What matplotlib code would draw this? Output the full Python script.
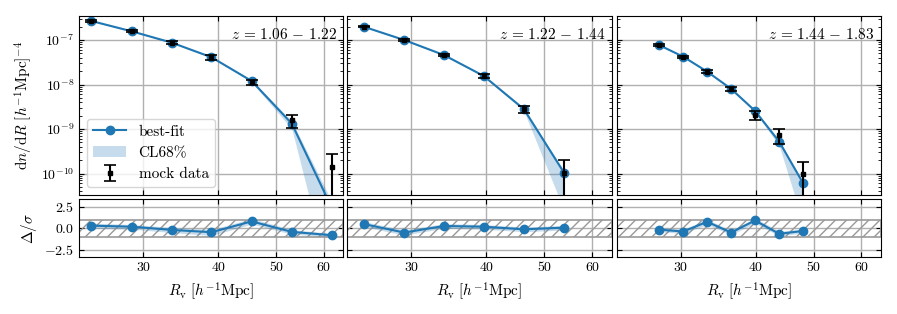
import numpy as np
import matplotlib
matplotlib.use("Agg")
import matplotlib.pyplot as plt
from matplotlib.ticker import FixedLocator, NullLocator, FixedFormatter, LogLocator

plt.rcParams['font.family'] = 'serif'
plt.rcParams['font.serif'] = ['cmr10', 'DejaVu Serif']
plt.rcParams['mathtext.fontset'] = 'cm'
plt.rcParams['axes.formatter.use_mathtext'] = True
plt.rcParams['axes.unicode_minus'] = True
plt.rcParams['font.size'] = 10

# ---------------- data ----------------
z_labels = [r"$z\,=\,1.06\,-\,1.22$", r"$z\,=\,1.22\,-\,1.44$", r"$z\,=\,1.44\,-\,1.83$"]

R1 = [24.6, 28.7, 33.5, 39.0, 45.5, 53.1, 61.9]
fit1 = [2.67e-7, 1.57e-7, 8.7e-8, 4.1e-8, 1.2e-8, 1.32e-9, 1.7e-11]
band_lo1 = [2.60e-7, 1.53e-7, 8.45e-8, 3.95e-8, 1.13e-8, 1.0e-9, 3e-13]
band_hi1 = [2.74e-7, 1.61e-7, 8.95e-8, 4.25e-8, 1.27e-8, 1.5e-9, 2.4e-11]
data1 = [2.67e-7, 1.57e-7, 8.7e-8, 4.1e-8, 1.12e-8, 1.56e-9, 1.38e-10]
err1 = [1.0e-8, 0.8e-8, 0.6e-8, 0.5e-8, 0.16e-8, 0.48e-9, 1.32e-10]
res1 = [0.31, 0.19, -0.19, -0.46, 0.81, -0.42, -0.81]
res_lo1 = [0.0, -0.1, -0.5, -0.85, 0.5, -0.7, -1.0]
res_hi1 = [0.6, 0.45, 0.1, -0.15, 1.15, -0.15, -0.6]

R2 = [25.0, 29.2, 34.0, 39.6, 46.2, 53.9]
fit2 = [1.99e-7, 1.0e-7, 4.6e-8, 1.56e-8, 2.8e-9, 1.04e-10]
band_lo2 = [1.94e-7, 0.97e-7, 4.45e-8, 1.5e-8, 2.55e-9, 1.5e-11]
band_hi2 = [2.04e-7, 1.03e-7, 4.75e-8, 1.62e-8, 3.0e-9, 1.15e-10]
data2 = [1.99e-7, 1.0e-7, 4.6e-8, 1.56e-8, 2.8e-9, 1.04e-10]
err2 = [0.8e-8, 0.5e-8, 0.3e-8, 0.15e-8, 0.5e-9, 0.93e-10]
res2 = [0.5, -0.5, 0.27, 0.19, -0.12, 0.08]
res_lo2 = [0.2, -0.8, 0.0, -0.1, -0.4, -0.2]
res_hi2 = [0.8, -0.2, 0.55, 0.45, 0.15, 0.35]

R3 = [27.6, 30.3, 33.2, 36.4, 39.9, 43.8, 48.0]
fit3 = [7.7e-8, 4.2e-8, 1.95e-8, 8.0e-9, 2.57e-9, 5.2e-10, 6.1e-11]
band_lo3 = [7.5e-8, 4.1e-8, 1.89e-8, 7.7e-9, 2.4e-9, 4.2e-10, 8e-12]
band_hi3 = [7.9e-8, 4.3e-8, 2.01e-8, 8.3e-9, 2.72e-9, 5.6e-10, 6.5e-11]
data3 = [7.7e-8, 4.2e-8, 1.95e-8, 8.0e-9, 2.06e-9, 7.3e-10, 9.7e-11]
err3 = [0.4e-8, 0.25e-8, 0.15e-8, 0.8e-9, 0.5e-9, 2.6e-10, 0.83e-10]
res3 = [-0.15, -0.38, 0.77, -0.5, 0.92, -0.65, -0.31]
res_lo3 = [-0.4, -0.6, 0.45, -0.75, 0.6, -0.9, -0.55]
res_hi3 = [0.1, -0.1, 1.05, -0.25, 1.2, -0.35, -0.05]

panels = [
    (R1, fit1, band_lo1, band_hi1, data1, err1, res1, res_lo1, res_hi1),
    (R2, fit2, band_lo2, band_hi2, data2, err2, res2, res_lo2, res_hi2),
    (R3, fit3, band_lo3, band_hi3, data3, err3, res3, res_lo3, res_hi3),
]

xticks = [30, 40, 50, 60]
res_ticks = [-2.5, 0.0, 2.5]
res_ticklabels = [r"$-2.5$", r"$0.0$", r"$2.5$"]

# ---------------- figure ----------------
W, H = 897, 314
fig = plt.figure(figsize=(W / 100, H / 100), dpi=100)

lefts = [79, 347, 616.7]
rights = [343.3, 611.7, 880.7]
top_t, top_b = 16, 195
bot_t, bot_b = 199.3, 257.3

blue = '#1f77b4'
gridc = '#b0b0b0'

for i, (R, fit, blo, bhi, dat, err, res, rlo, rhi) in enumerate(panels):
    l = lefts[i] / W
    w = (rights[i] - lefts[i]) / W
    ax = fig.add_axes([l, 1 - top_b / H, w, (top_b - top_t) / H])
    axr = fig.add_axes([l, 1 - bot_b / H, w, (bot_b - bot_t) / H])

    # top panel
    ax.set_xscale('log')
    ax.set_yscale('log')
    ax.fill_between(R, blo, bhi, color=blue, alpha=0.25, lw=0, label='CL68%')
    ax.plot(R, fit, '-o', color=blue, ms=6, lw=1.5, label='best-fit')
    ax.errorbar(R, dat, yerr=err, fmt='s', color='k', ms=3.5, capsize=4,
                elinewidth=1.5, capthick=1.2, label='mock data')
    ax.set_xlim(23.45, 64.7)
    ax.set_ylim(3.3e-11, 3.46e-7)
    ax.grid(True, which='major', color=gridc, lw=1)
    ax.set_axisbelow(True)
    ax.xaxis.set_major_locator(FixedLocator(xticks))
    ax.xaxis.set_minor_locator(NullLocator())
    ax.tick_params(axis='x', labelbottom=False)
    ax.yaxis.set_major_locator(LogLocator(base=10, numticks=10))
    ax.yaxis.set_minor_locator(LogLocator(base=10, subs=np.arange(2, 10), numticks=20))
    ax.tick_params(which='both', direction='in', top=True, right=True)
    if i > 0:
        ax.tick_params(axis='y', which='both', labelleft=False)
    else:
        ax.set_ylabel(r"$\mathrm{d}n/\mathrm{d}R\ [h^{-1}\mathrm{Mpc}]^{-4}$", fontsize=11)
        handles, labels = ax.get_legend_handles_labels()
        order = [labels.index('best-fit'), labels.index('CL68%'), labels.index('mock data')]
        ax.legend([handles[k] for k in order], [labels[k] for k in order],
                  loc='lower left', fontsize=11, framealpha=0.8, edgecolor='#cccccc',
                  handlelength=2.2)
    ax.text(0.975, 0.94, z_labels[i], transform=ax.transAxes, ha='right', va='top',
            fontsize=11)

    # residual panel
    axr.set_xscale('log')
    axr.fill_between([23.45, 64.7], -1, 1, facecolor='none', edgecolor='#999999',
                     hatch='///', lw=1.2)
    axr.fill_between(R, rlo, rhi, color=blue, alpha=0.25, lw=0)
    axr.plot(R, res, '-o', color=blue, ms=6, lw=1.5)
    axr.set_xlim(23.45, 64.7)
    axr.set_ylim(-3.4, 3.4)
    axr.grid(True, which='major', color=gridc, lw=1)
    axr.set_axisbelow(True)
    axr.xaxis.set_major_locator(FixedLocator(xticks))
    axr.xaxis.set_major_formatter(FixedFormatter([str(t) for t in xticks]))
    axr.xaxis.set_minor_locator(NullLocator())
    axr.yaxis.set_major_locator(FixedLocator(res_ticks))
    axr.yaxis.set_major_formatter(FixedFormatter(res_ticklabels))
    axr.tick_params(which='both', direction='in', top=True, right=True)
    axr.set_xlabel(r"$R_{\rm v}\ [h^{-1}{\rm Mpc}]$", fontsize=11)
    if i > 0:
        axr.tick_params(axis='y', labelleft=False)
    else:
        axr.set_ylabel(r"$\Delta/\sigma$", fontsize=11)

fig.savefig('out.png', dpi=100)
